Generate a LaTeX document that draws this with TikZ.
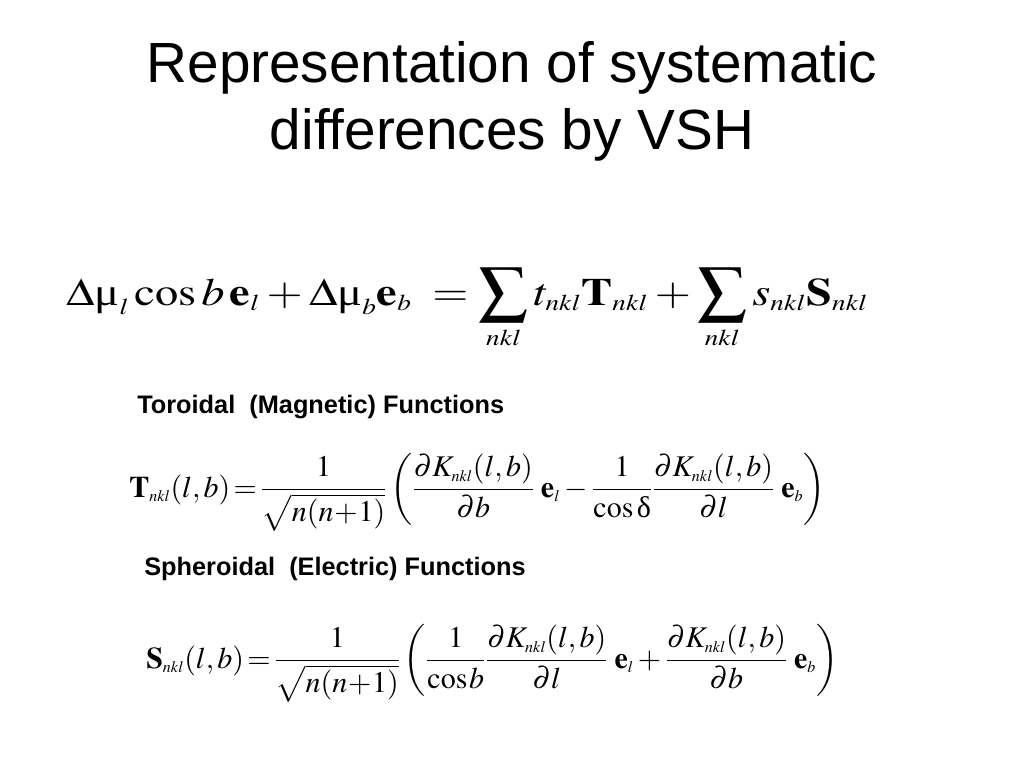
\documentclass[tikz,border=0pt]{standalone}
\usepackage{amsmath}
\usepackage{mathptmx}
\usepackage{graphicx}
\usepackage{fontspec}
\setmainfont{Liberation Sans}
\newfontfamily\tnrfont{Liberation Serif}
\DeclareMathSizes{22.5}{22.5}{12}{9}
\DeclareMathSizes{29}{29}{17}{13}
\newcommand{\upmuu}{\text{\tnrfont μ}}
\newcommand{\updel}{\text{\tnrfont δ}}
\newcommand{\bigsum}{\mathop{\vcenter{\hbox{\scalebox{1.05}[1.14]{$\displaystyle\sum$}}}}\limits}
\newcommand{\tighteq}{\mkern-2mu=\mkern-2mu}
\newcommand{\tightplus}{\mkern-2mu+\mkern-2mu}
\newcommand{\tcos}{\mathrm{cos}\mkern1mu}
\tikzset{
  titletext/.style={anchor=base, inner sep=0pt, font=\fontsize{42.5}{50}\selectfont},
  labeltext/.style={anchor=base west, inner sep=0pt, font=\fontsize{19}{23}\selectfont\bfseries},
  maineq/.style={anchor=base west, inner sep=0pt, font=\fontsize{29}{35}\selectfont},
  funceq/.style={anchor=base west, inner sep=0pt, font=\fontsize{22.5}{27}\selectfont}
}
\begin{document}
\begin{tikzpicture}[x=0.75pt,y=-0.75pt]
\useasboundingbox[fill=white] (0,0) rectangle (1024,768);
\node[titletext] (t1) at (512,82) {Representation of systematic};
\node[titletext] (t2) at (512,149) {differences by VSH};
\node[maineq] (eq) at (66,305) {\scalebox{1.2}[1]{$\displaystyle \Delta\upmuu_l\cos b\,\mathbf{e}_l+\Delta\upmuu_b\mathbf{e}_b\;=\bigsum_{nkl}t_{nkl}\mathbf{T}_{nkl}+\bigsum_{nkl}s_{nkl}\mathbf{S}_{nkl}$}};
\node[labeltext] (lt) at (137,413) {Toroidal\ \ (Magnetic) Functions};
\node[funceq] (teq) at (129,497) {$\displaystyle \mathbf{T}_{nkl}(l,b)\tighteq\frac{1}{\sqrt{n(n\tightplus1)}}\left(\frac{\partial K_{nkl}(l,b)}{\partial b}\;\mathbf{e}_l-\frac{1}{\cos\updel}\frac{\partial K_{nkl}(l,b)}{\partial l}\;\mathbf{e}_b\right)$};
\node[labeltext] (ls) at (144,575) {Spheroidal\ \ (Electric) Functions};
\node[funceq] (seq) at (146,668) {$\displaystyle \mathbf{S}_{nkl}(l,b)\tighteq\frac{1}{\sqrt{n(n\tightplus1)}}\left(\frac{1}{\tcos b}\frac{\partial K_{nkl}(l,b)}{\partial l}\;\mathbf{e}_l+\frac{\partial K_{nkl}(l,b)}{\partial b}\;\mathbf{e}_b\right)$};
\end{tikzpicture}
\end{document}
